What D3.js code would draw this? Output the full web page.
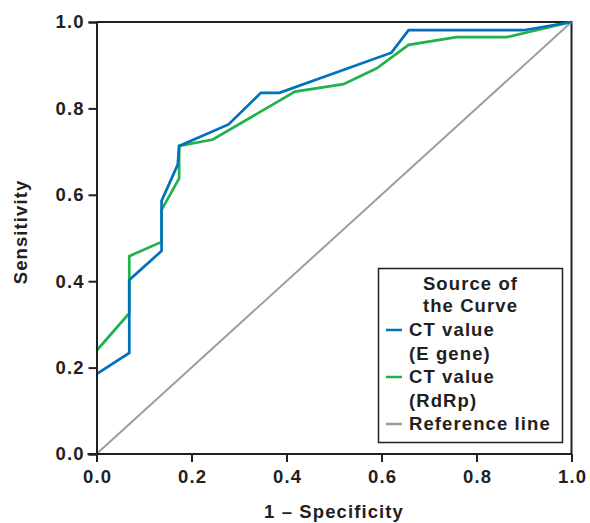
<!DOCTYPE html>
<html><head><meta charset="utf-8">
<script src="https://cdn.jsdelivr.net/npm/d3@7"></script>
<style>body{margin:0;background:#fff}svg text{font-family:"Liberation Sans",Arial,sans-serif;font-weight:bold;fill:#231f20;letter-spacing:1.1px}</style>
</head><body><svg id="c" width="590" height="523"></svg>
<script>
const ticks = [0, 0.2, 0.4, 0.6, 0.8, 1.0];
const eGene = [[0,0.185],[0.069,0.234],[0.069,0.403],[0.137,0.47],[0.137,0.586],[0.171,0.67],[0.174,0.713],[0.278,0.763],[0.346,0.836],[0.385,0.836],[0.621,0.929],[0.657,0.981],[0.899,0.981],[1,1]];
const rdrp = [[0,0.239],[0.069,0.326],[0.069,0.458],[0.137,0.491],[0.137,0.565],[0.174,0.638],[0.174,0.713],[0.245,0.728],[0.418,0.839],[0.52,0.856],[0.59,0.893],[0.657,0.947],[0.758,0.965],[0.864,0.965],[1,1]];
const refLine = [[0,0],[1,1]];
const legendTitle = ["Source of","the Curve"];
const legendItems = [{lines:["CT value","(E gene)"],color:"#0072bc"},{lines:["CT value","(RdRp)"],color:"#22b24c"},{lines:["Reference line"],color:"#9d9d9d"}];

const svg = d3.select("#c");
const x = d3.scaleLinear().domain([0,1]).range([96.5,571.5]);
const y = d3.scaleLinear().domain([0,1]).range([454,22]);
const ink = "#231f20";
const FS = 18.5;

svg.append("path").attr("d",`M${x(0)},${y(1)}H${x(1)}V${y(0)}`).attr("fill","none").attr("stroke",ink).attr("stroke-width",2);

const line = d3.line().x(d=>x(d[0])).y(d=>y(d[1]));
svg.append("path").datum(refLine).attr("d",line).attr("fill","none").attr("stroke","#9d9d9d").attr("stroke-width",2);
svg.append("path").datum(rdrp).attr("d",line).attr("fill","none").attr("stroke","#22b24c").attr("stroke-width",2.7);
svg.append("path").datum(eGene).attr("d",line).attr("fill","none").attr("stroke","#0072bc").attr("stroke-width",2.7);

const fmt = d3.format(".1f");
const xa = svg.append("g").attr("transform",`translate(0,${y(0)})`).call(d3.axisBottom(x).tickValues(ticks).tickFormat(fmt).tickSize(8).tickPadding(8));
const ya = svg.append("g").attr("transform",`translate(${x(0)},0)`).call(d3.axisLeft(y).tickValues(ticks).tickFormat(fmt).tickSize(8).tickPadding(5));
[xa,ya].forEach(a=>{a.select(".domain").attr("stroke",ink).attr("stroke-width",2);a.selectAll(".tick line").attr("stroke",ink).attr("stroke-width",2);a.selectAll("text").attr("font-size",FS).attr("fill",ink).style("font-family",null);});
xa.selectAll("text").attr("dx",0.55);
ya.selectAll("text").attr("dx",1.1);
xa.select(".domain").attr("d",`M${x(0)-9},0H${x(1)}`);

svg.append("text").attr("x",334).attr("y",518).attr("text-anchor","middle").attr("font-size",FS).text("1 – Specificity");
svg.append("text").attr("transform","translate(27,232) rotate(-90)").attr("text-anchor","middle").attr("font-size",FS).text("Sensitivity");

const lg = svg.append("g");
lg.append("rect").attr("x",378.5).attr("y",268.5).attr("width",184).attr("height",174).attr("fill","#fff").attr("stroke",ink).attr("stroke-width",1.5);
legendTitle.forEach((t,i)=>lg.append("text").attr("x",470.5).attr("y",290+i*22).attr("text-anchor","middle").attr("font-size",FS).text(t));
let yy = 336;
legendItems.forEach(it=>{
  lg.append("line").attr("x1",386).attr("x2",402).attr("y1",yy-6).attr("y2",yy-6).attr("stroke",it.color).attr("stroke-width",2.5);
  it.lines.forEach((t,j)=>lg.append("text").attr("x",409).attr("y",yy+j*23.5).attr("font-size",FS).text(t));
  yy += it.lines.length*23.5;
});
</script></body></html>
